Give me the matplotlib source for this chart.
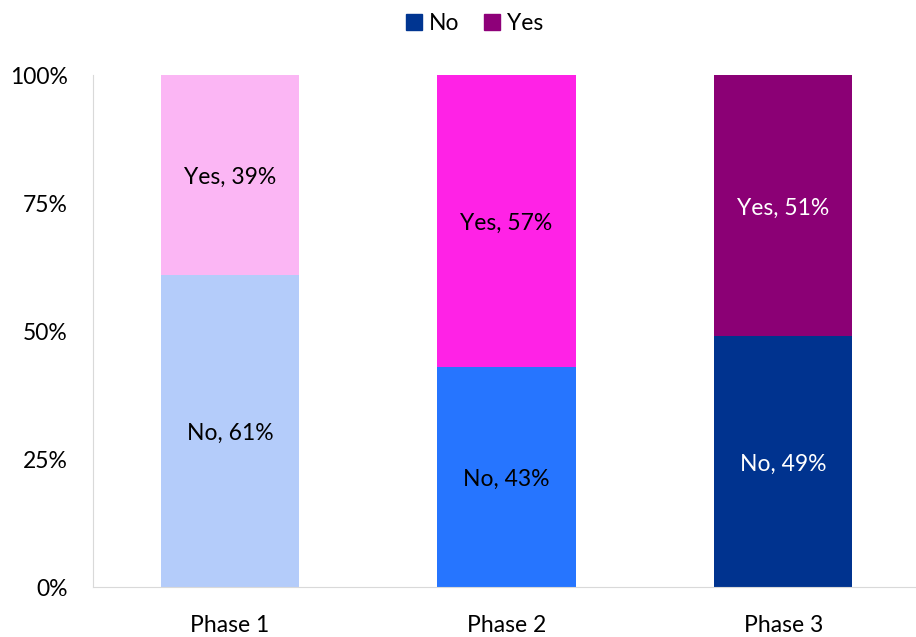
import matplotlib.pyplot as plt
import numpy as np
from matplotlib.patches import Patch

plt.rcParams['font.family'] = ['Lato', 'DejaVu Sans']

phases = ["Phase 1", "Phase 2", "Phase 3"]
no_values = [61, 43, 49]
yes_values = [39, 57, 51]

no_colors = ["#B4CCFA", "#2675FF", "#00338F"]
yes_colors = ["#FBB6F4", "#FF22E6", "#8B0075"]
text_colors = ["black", "black", "white"]

fig = plt.figure(figsize=(9.16, 6.37), dpi=100)
ax = fig.add_axes([93 / 916, 50 / 637, 1 - 93 / 916, 512 / 637])

x = np.arange(len(phases))
ax.bar(x, no_values, width=0.5, color=no_colors)
ax.bar(x, yes_values, width=0.5, bottom=no_values, color=yes_colors)

for i in range(len(phases)):
    ax.text(x[i], no_values[i] / 2 - 0.5, f"No, {no_values[i]}%", ha="center", va="center",
            fontsize=16.5, color=text_colors[i])
    ax.text(x[i], no_values[i] + yes_values[i] / 2 - 0.5, f"Yes, {yes_values[i]}%", ha="center",
            va="center", fontsize=16.5, color=text_colors[i])

ax.set_xlim(-0.495, 2.48)
ax.set_ylim(0, 100)
ax.set_yticks([0, 25, 50, 75, 100])
ax.set_yticklabels(["0%", "25%", "50%", "75%", "100%"])
ax.set_xticks(x)
ax.set_xticklabels(phases)
ax.tick_params(length=0, labelsize=16.5)
ax.tick_params(axis="x", pad=20)
ax.tick_params(axis="y", pad=18)
for s in ["top", "right"]:
    ax.spines[s].set_visible(False)
for s in ["left", "bottom"]:
    ax.spines[s].set_color("#D9D9D9")

handles = [Patch(color="#003591", label="No"), Patch(color="#8E0079", label="Yes")]
fig.legend(handles=handles, loc="upper center", bbox_to_anchor=(0.518, 1.012), ncol=2,
           frameon=False, fontsize=16.5, handlelength=0.7, handleheight=0.7,
           handletextpad=0.3, columnspacing=1.1)

fig.savefig("out.png", dpi=100)
